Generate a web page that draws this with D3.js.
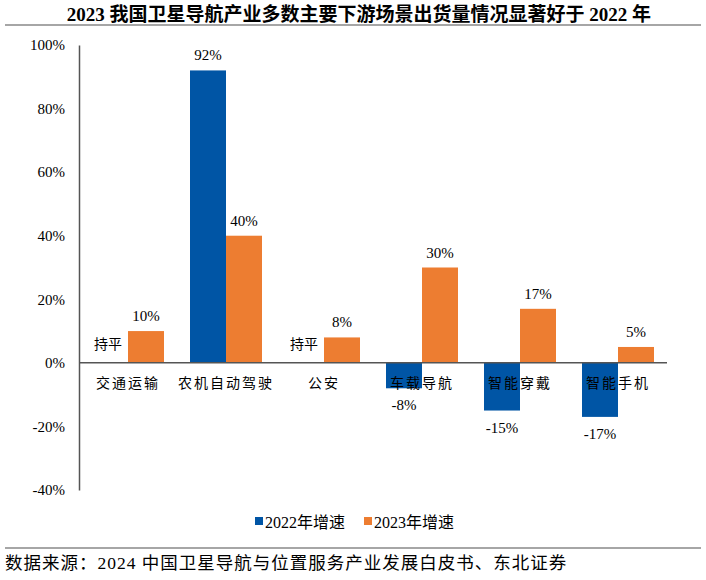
<!DOCTYPE html>
<html>
<head>
<meta charset="utf-8">
<script src="https://cdn.jsdelivr.net/npm/d3@7"></script>
<style>
  body { margin: 0; background: #fff; }
  svg { font-family: "Liberation Serif", "Times New Roman", "Noto Sans CJK SC", serif; }
</style>
</head>
<body>
<svg id="chart" width="706" height="580"></svg>
<script>
const categories = ["交通运输", "农机自动驾驶", "公安", "车载导航", "智能穿戴", "智能手机"];
const growth2022 = [0, 92, 0, -8, -15, -17];
const growth2023 = [10, 40, 8, 30, 17, 5];
const seriesNames = ["2022年增速", "2023年增速"];
const yTicks = [-40, -20, 0, 20, 40, 60, 80, 100];

const width = 706, height = 580;
const margin = {top: 45, right: 39, bottom: 90, left: 79};
const blue = "#0055a5", orange = "#ed7d31";

const svg = d3.select("#chart");

// title + rules
svg.append("text")
  .attr("x", width / 2 + 6).attr("y", 21)
  .attr("text-anchor", "middle")
  .style("font-size", "19px").style("font-weight", "bold")
  .text("2023 我国卫星导航产业多数主要下游场景出货量情况显著好于 2022 年");
svg.append("line").attr("x1", 5).attr("x2", 701).attr("y1", 25).attr("y2", 25)
  .attr("stroke", "#888").attr("stroke-width", 1.5);
svg.append("line").attr("x1", 5).attr("x2", 701).attr("y1", 548).attr("y2", 548)
  .attr("stroke", "#888").attr("stroke-width", 1.5);
svg.append("text")
  .attr("x", 5).attr("y", 569)
  .style("font-size", "17.5px")
  .style("letter-spacing", "1px")
  .text("数据来源：2024 中国卫星导航与位置服务产业发展白皮书、东北证券");

const x = d3.scaleBand()
  .domain(categories)
  .range([margin.left, width - margin.right])
  .paddingInner(0)
  .paddingOuter(0);

const y = d3.scaleLinear()
  .domain([-40, 100])
  .range([height - margin.bottom, margin.top]);

const barW = 36;

// y axis
svg.append("g")
  .attr("transform", `translate(${margin.left},0)`)
  .call(d3.axisLeft(y).tickValues(yTicks).tickSize(0).tickPadding(14).tickFormat(d => d + "%"))
  .call(g => g.select(".domain").attr("stroke", "#555").attr("stroke-width", 1.5))
  .call(g => g.selectAll("text").style("font-size", "15px").style("fill", "#000")
    .style("font-family", "'Liberation Serif', 'Times New Roman', serif"));

// bars
const data = categories.map((c, i) => ({c, a: growth2022[i], b: growth2023[i]}));

svg.append("g").selectAll("rect.a")
  .data(data).join("rect")
  .attr("x", d => x(d.c) + x.bandwidth() / 2 - barW)
  .attr("width", barW)
  .attr("y", d => y(Math.max(0, d.a)))
  .attr("height", d => Math.abs(y(d.a) - y(0)))
  .attr("fill", blue);

svg.append("g").selectAll("rect.b")
  .data(data).join("rect")
  .attr("x", d => x(d.c) + x.bandwidth() / 2)
  .attr("width", barW)
  .attr("y", d => y(Math.max(0, d.b)))
  .attr("height", d => Math.abs(y(d.b) - y(0)))
  .attr("fill", orange);

// zero line
svg.append("line")
  .attr("x1", margin.left).attr("x2", width - margin.right)
  .attr("y1", y(0)).attr("y2", y(0))
  .attr("stroke", "#555").attr("stroke-width", 1.5);

// category labels
svg.append("g").selectAll("text")
  .data(categories).join("text")
  .attr("x", d => x(d) + x.bandwidth() / 2)
  .attr("y", y(0) + 25)
  .attr("text-anchor", "middle")
  .style("font-size", "14px")
  .style("letter-spacing", "2px")
  .text(d => d);

// value labels
const valLabels = svg.append("g").style("font-size", "15px");
data.forEach(d => {
  const cx = x(d.c) + x.bandwidth() / 2;
  if (d.a === 0) {
    valLabels.append("text")
      .attr("x", cx - barW / 2 - 2).attr("y", y(0) - 14)
      .attr("text-anchor", "middle")
      .style("font-size", "14px")
      .text("持平");
  } else {
    valLabels.append("text")
      .attr("x", cx - barW / 2)
      .attr("y", d.a > 0 ? y(d.a) - 10 : y(d.a) + 22)
      .attr("text-anchor", "middle")
      .text(d.a + "%");
  }
  valLabels.append("text")
    .attr("x", cx + barW / 2)
    .attr("y", y(d.b) - 10)
    .attr("text-anchor", "middle")
    .text(d.b + "%");
});

// legend
const legend = svg.append("g").style("font-size", "16px");
const legendX = [255, 364];
seriesNames.forEach((name, i) => {
  legend.append("rect")
    .attr("x", legendX[i]).attr("y", 517)
    .attr("width", 8).attr("height", 8)
    .attr("fill", i === 0 ? blue : orange);
  legend.append("text")
    .attr("x", legendX[i] + 10).attr("y", 528)
    .text(name);
});
</script>
</body>
</html>
